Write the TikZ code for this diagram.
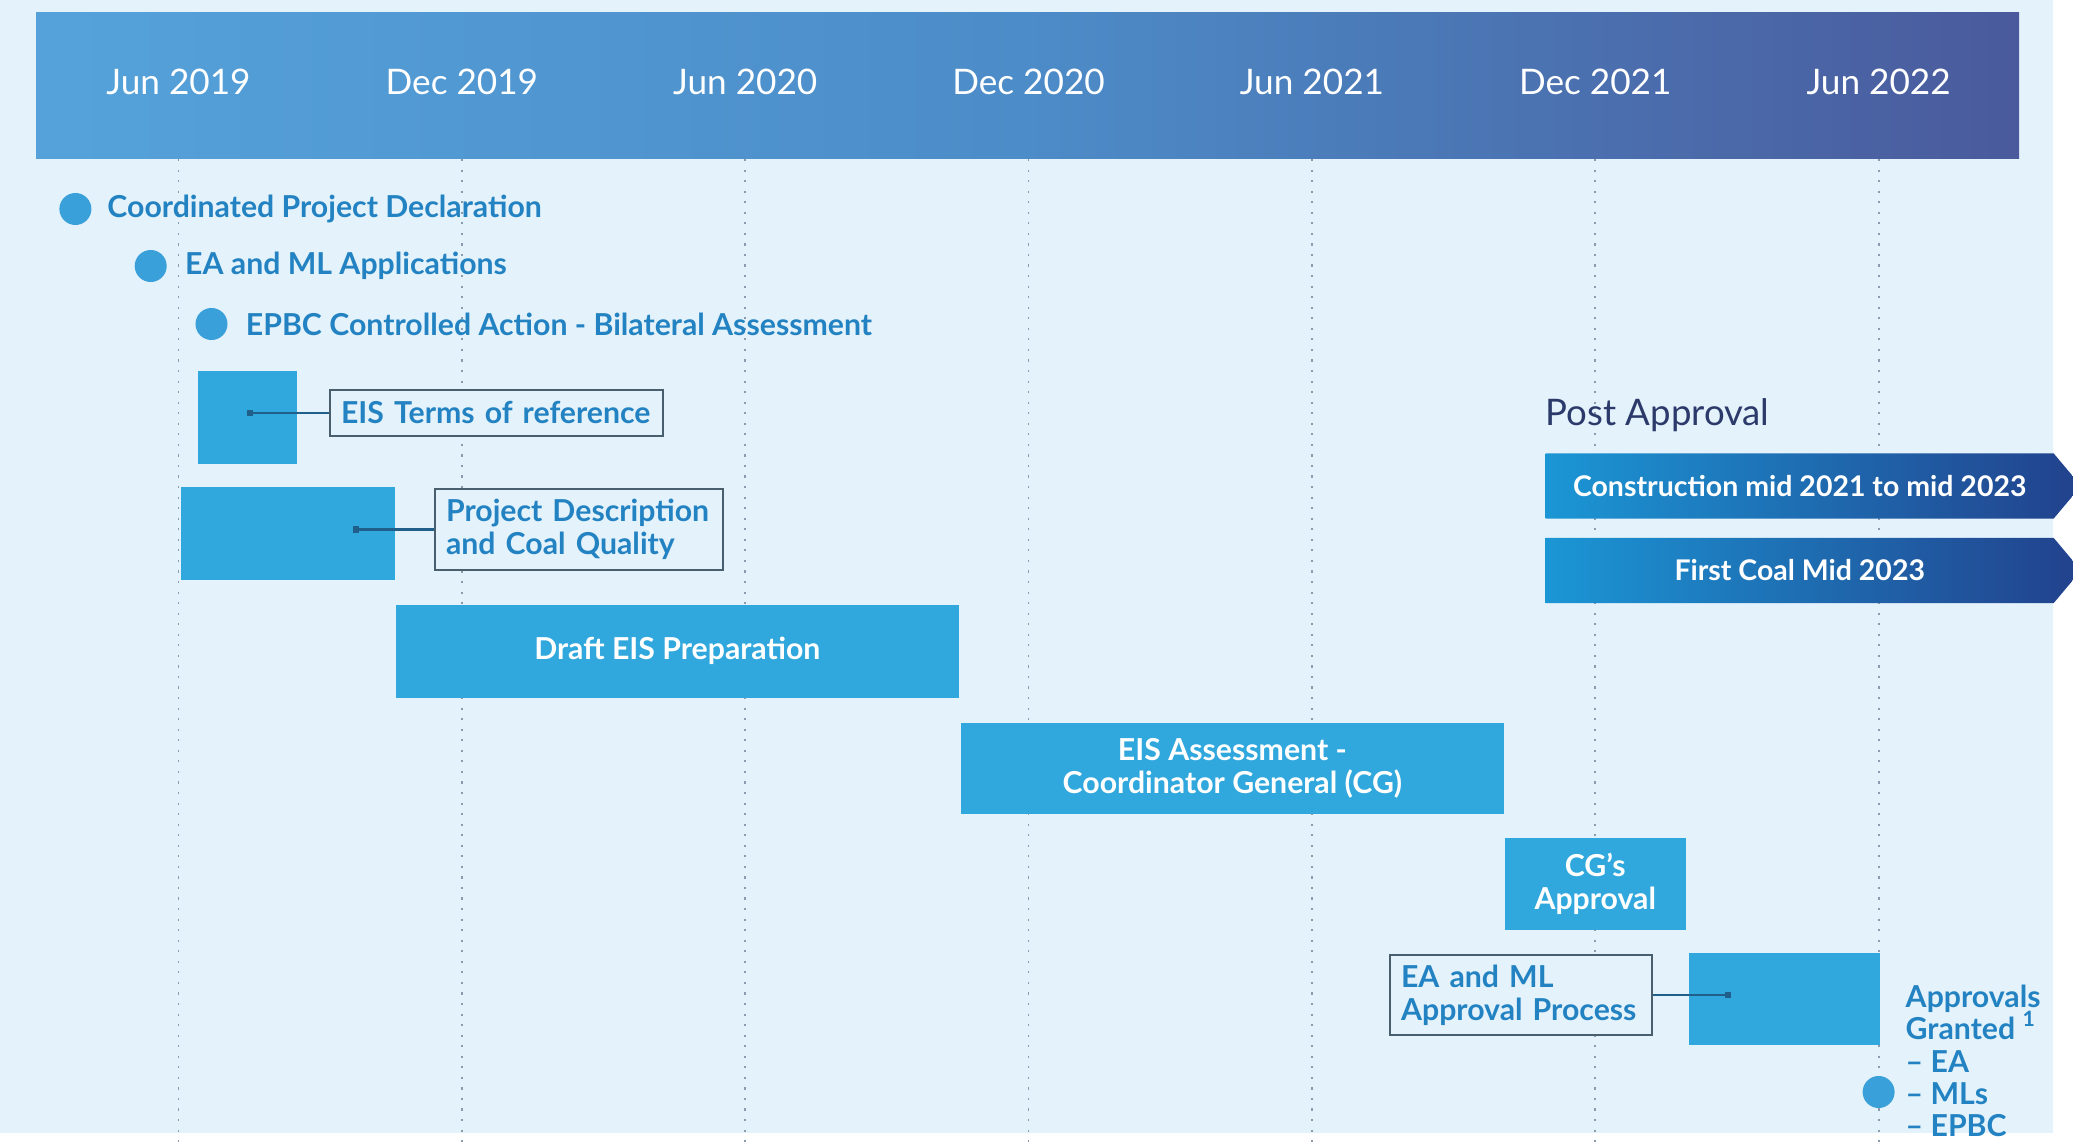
\documentclass[tikz,border=0pt]{standalone}
\usepackage{fontspec}
\setmainfont{Lato}
\usetikzlibrary{positioning, calc, shapes.symbols}

\definecolor{bgblue}{HTML}{E4F2FB}
\definecolor{hdrL}{HTML}{55A2DA}
\definecolor{hdrM}{HTML}{4C8CC8}
\definecolor{hdrR}{HTML}{4A5A9C}
\definecolor{barblue}{HTML}{30A8DD}
\definecolor{txtblue}{HTML}{2383C2}
\definecolor{dotblue}{HTML}{3AA0DA}
\definecolor{boxline}{HTML}{4A5F6E}
\definecolor{pinblue}{HTML}{1F5F8A}
\definecolor{gridgray}{HTML}{8A9BB0}
\definecolor{arrL}{HTML}{1B96D5}
\definecolor{arrR}{HTML}{22418C}
\definecolor{navy}{HTML}{2B3A6B}

\begin{document}
\begin{tikzpicture}[
        x=0.01cm, y=-0.01cm,
        font=\bfseries\fontsize{8.6}{9.4}\selectfont,
        gridline/.style={gridgray, line width=0.5pt, dash pattern=on 0.6pt off 2.4pt},
        monthlbl/.style={text=white, font=\fontsize{10}{12}\selectfont},
        ms/.style={circle, fill=dotblue, minimum size=0.32cm, inner sep=0pt},
        mstext/.style={text=txtblue, inner sep=0pt, anchor=west},
        bar/.style={fill=barblue, text=white, align=center, inner sep=0pt, anchor=north west},
        lblbox/.style={draw=boxline, line width=0.6pt, fill=bgblue, text=txtblue, align=left,
            inner xsep=0.11cm, inner ysep=0pt, anchor=west},
        pin/.style={rectangle, fill=pinblue, minimum size=0.06cm, inner sep=0pt},
        leader/.style={pinblue, line width=0.6pt},
        postarrow/.style={signal, signal to=east, signal pointer angle=100,
            left color=arrL, right color=arrR, text=white, inner sep=0pt,
            font=\bfseries\fontsize{8.1}{9}\selectfont,
            minimum width=5.35cm, minimum height=0.65cm, anchor=west}
    ]

    \useasboundingbox (0,0) rectangle (2073,1146);
    \fill[white] (0,0) rectangle (2073,1146);
    \fill[bgblue] (0,0) rectangle (2053,1133);

    % Barra de meses
    \shade[left color=hdrL, right color=hdrR, middle color=hdrM] (36,13) rectangle (2019,159);
    \foreach \i/\lbl in {0/Jun 2019, 1/Dec 2019, 2/Jun 2020, 3/Dec 2020, 4/Jun 2021, 5/Dec 2021, 6/Jun 2022}
    {
        \node[monthlbl] (m\i) at ({178.5+283.35*\i},82) {\lbl};
        \draw[gridline] ({178.5+283.35*\i},159) -- ({178.5+283.35*\i},1146);
    }

    % Hitos iniciales
    \node[ms] (cpd) at (75.4,209) {};
    \node[mstext, right=0.146cm of cpd] (cpdtxt) {Coordinated Project Declaration};
    \node[ms] (eaml0) at (150.7,266) {};
    \node[mstext, right=0.17cm of eaml0] (eaml0txt) {EA and ML Applications};
    \node[ms] (epbc) at (211.5,324) {};
    \node[mstext, right=0.17cm of epbc] (epbctxt) {EPBC Controlled Action - Bilateral Assessment};

    % Barras de actividades
    \node[bar, minimum width=0.99cm, minimum height=0.93cm] (tor) at (197,370) {};
    \node[bar, minimum width=2.14cm, minimum height=0.93cm] (pdcq) at (180,486) {};
    \node[bar, minimum width=5.63cm, minimum height=0.93cm] (draft) at (395,604) {Draft EIS Preparation};
    \node[bar, minimum width=5.43cm, minimum height=0.91cm] (assess) at (960,722) {EIS Assessment -\\Coordinator General (CG)};
    \node[bar, minimum width=1.81cm, minimum height=0.92cm] (cgok) at (1504,837) {CG's\\Approval};
    \node[bar, minimum width=1.91cm, minimum height=0.92cm] (eamlbar) at (1688,952) {};

    % Etiquetas con cajas
    \node[lblbox, text width=3.11cm, minimum height=0.46cm] (torlbl) at (329,413) {EIS Terms of reference};
    \node[lblbox, text width=2.66cm, minimum height=0.81cm] (pdlbl) at (434,529.5) {Project Description\\and Coal Quality};
    \node[lblbox, text width=2.40cm, minimum height=0.805cm] (eamllbl) at (1389,995) {EA and ML\\Approval Process};

    \node[pin] (torpin) at (250,413) {};
    \node[pin] (pdpin) at (355.6,529.5) {};
    \node[pin] (eamlpin) at (1728,995) {};
    \draw[leader] (torpin.center) -- (torlbl.west);
    \draw[leader] (pdpin.center) -- (pdlbl.west);
    \draw[leader] (eamlpin.center) -- (eamllbl.east);

    % Post aprobacion
    \node[anchor=west, inner sep=0pt, text=navy, font=\fontsize{10.4}{12}\selectfont] (post) at (1545,415) {Post Approval};
    \node[postarrow] (constr) at (1545,486) {Construction mid 2021 to mid 2023};
    \node[postarrow] (coal) at (1545,570.5) {First Coal Mid 2023};

    % Aprobaciones otorgadas
    \node[ms] (granted) at (1878.6,1092) {};
    \node[mstext, align=left, font=\bfseries\fontsize{8.6}{9.2}\selectfont] (grantedtxt) at (1905,1061)
        {Approvals\\Granted~\smash{\textsuperscript{1}}\\– EA\\– MLs\\– EPBC};

\end{tikzpicture}
\end{document}
